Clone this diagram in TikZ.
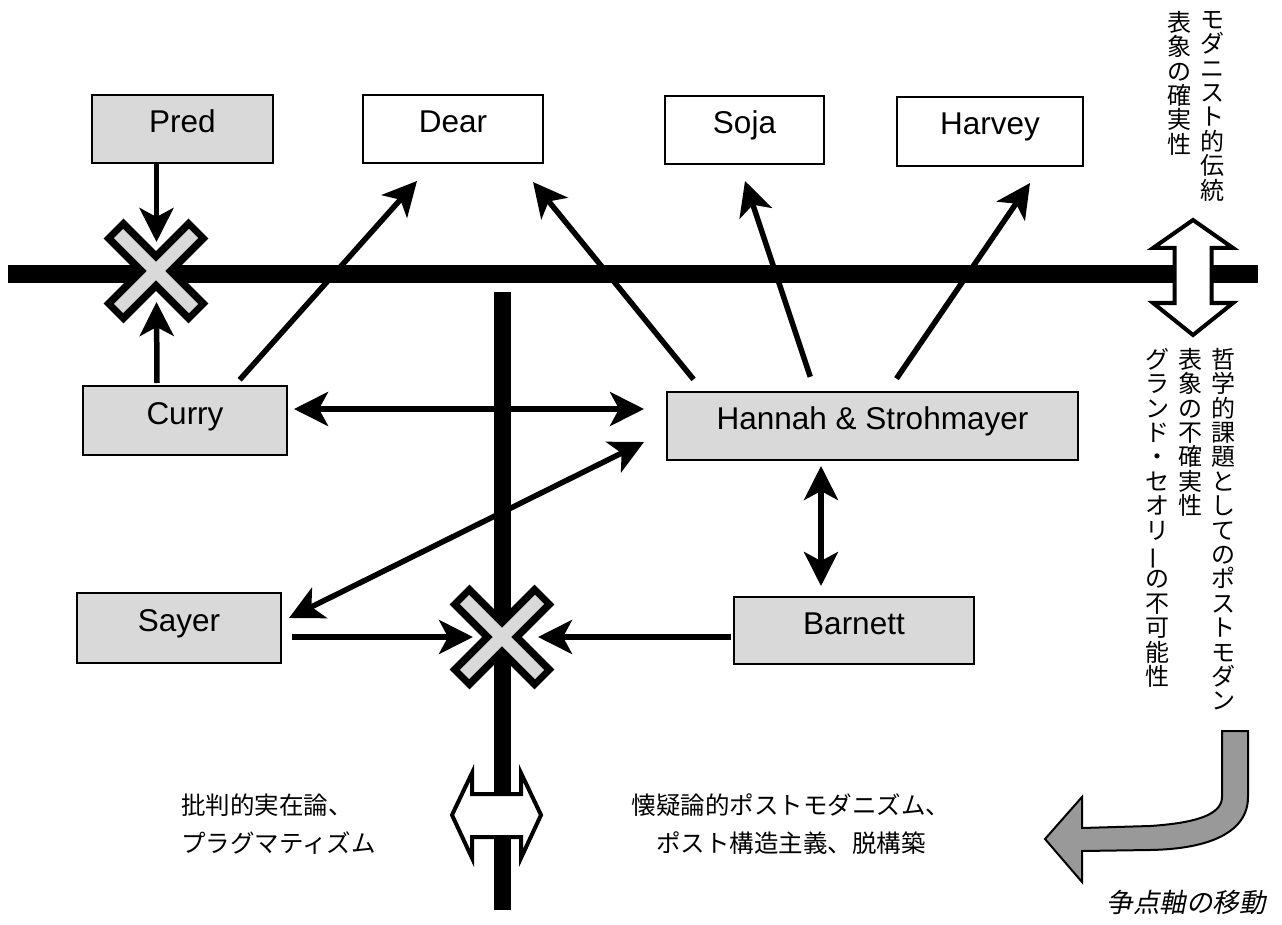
\documentclass[tikz,border=0pt]{standalone}
\usepackage{fontspec}
\setmainfont{Liberation Sans}
\newfontfamily\jp{Noto Sans CJK JP}
\newfontfamily\jpit[FakeSlant=0.2]{Noto Sans CJK JP}
\usetikzlibrary{arrows.meta,calc}
\definecolor{boxgray}{HTML}{D9D9D9}
\definecolor{arrgray}{HTML}{999999}
\newcommand{\vbar}{\rotatebox[origin=c]{90}{ー}}
\tikzset{
  box/.style={draw=black, line width=2pt, inner sep=0pt, text height=22pt, text depth=15pt,
    font=\fontsize{31.5}{36}\selectfont},
  graybox/.style={box, fill=boxgray},
  whitebox/.style={box, fill=white},
  arr/.style={line width=5.5pt, -{Stealth[length=34pt,width=34pt,inset=9pt]}},
  darr/.style={line width=5.5pt, {Stealth[length=34pt,width=34pt,inset=9pt]}-{Stealth[length=34pt,width=34pt,inset=9pt]}},
  axis/.style={line width=18pt, line cap=butt},
  vtext/.style={align=center, inner sep=0pt, anchor=north, font=\jp\fontsize{24}{24.4}\selectfont},
  jtext/.style={inner sep=0pt, font=\jp\fontsize{24.5}{38}\selectfont},
  whitearrow/.style={draw=black, fill=white, line width=4pt, line join=miter},
}
\newcommand{\xmark}[1]{%
  \draw[line width=28pt, line cap=butt] ($(#1)+(-42.4,-42.4)$) -- ($(#1)+(42.4,42.4)$);
  \draw[line width=28pt, line cap=butt] ($(#1)+(-42.4,42.4)$) -- ($(#1)+(42.4,-42.4)$);
  \draw[line width=13pt, line cap=butt, boxgray] ($(#1)+(-37.5,-37.5)$) -- ($(#1)+(37.5,37.5)$);
  \draw[line width=13pt, line cap=butt, boxgray] ($(#1)+(-37.5,37.5)$) -- ($(#1)+(37.5,-37.5)$);
}
\begin{document}
\begin{tikzpicture}[x=1pt,y=-1pt]
\useasboundingbox[fill=white] (0,0) rectangle (1282,925);

% axes
\draw[axis] (8,274) -- (1258,274);
\draw[axis, line width=17pt] (502,292) -- (502,910);

% boxes
\node[graybox, minimum width=181pt, minimum height=68pt] (pred) at (182.5,129) {Pred};
\node[whitebox, minimum width=180pt, minimum height=68pt] (dear) at (453,129) {Dear};
\node[whitebox, minimum width=159pt, minimum height=68pt] (soja) at (744.5,130) {Soja};
\node[whitebox, minimum width=186pt, minimum height=69pt] (harvey) at (990,131.5) {Harvey};
\node[graybox, minimum width=204pt, minimum height=69pt] (curry) at (185,420.5) {Curry};
\node[graybox, minimum width=411pt, minimum height=68pt] (hs) at (872.5,426) {Hannah \& Strohmayer};
\node[graybox, minimum width=204pt, minimum height=70pt] (sayer) at (179,628) {Sayer};
\node[graybox, minimum width=240pt, minimum height=67pt] (barnett) at (854,630.5) {Barnett};

% crossing points
\coordinate (x1) at (156,271);
\coordinate (x2) at (502,637);
\coordinate (x1n) at (156.5,242);
\coordinate (x1s) at (156.5,302);
\coordinate (x2w) at (473,637);
\coordinate (x2e) at (538,637);

% connectors
\draw[arr] ([xshift=-26pt]pred.south) -- (x1n);
\draw[arr] ([xshift=-28pt,yshift=2pt]curry.north) -- (x1s);
\draw[arr, shorten <=7pt] ([xshift=50pt]curry.north) -- ([xshift=-36pt,yshift=-17pt]dear.south);
\draw[darr] ([xshift=6pt,yshift=11.5pt]curry.east) -- ([xshift=-22pt,yshift=17pt]hs.west);
\draw[darr] ([xshift=7pt,yshift=10pt]sayer.east) -- ([xshift=-22pt,yshift=-16pt]hs.west);
\draw[arr, shorten <=15pt] ([xshift=-169.5pt]hs.north) -- ([xshift=80pt,yshift=-18pt]dear.south);
\draw[arr, shorten <=15pt] ([xshift=-57.5pt]hs.north) -- ([xshift=0.5pt,yshift=-16pt]soja.south);
\draw[arr, shorten <=15pt] ([xshift=15.5pt]hs.north) -- ([xshift=40pt,yshift=-16pt]harvey.south);
\draw[darr] ([xshift=-51.5pt,yshift=-5pt]hs.south) -- ([xshift=-33pt,yshift=10pt]barnett.north);
\draw[arr] ([xshift=10pt,yshift=-9pt]sayer.east) -- (x2w);
\draw[arr] ([xshift=-2pt,yshift=-6.5pt]barnett.west) -- (x2e);

% X marks
\xmark{x1}
\xmark{x2}

% white double arrows
\draw[whitearrow] (1193,220) -- (1233,248) -- (1211.5,248) -- (1211.5,303) -- (1233,303)
  -- (1193,335) -- (1153,303) -- (1174.5,303) -- (1174.5,248) -- (1153,248) -- cycle;
\draw[whitearrow] (452,815) -- (472,773) -- (472,794) -- (521,794) -- (521,773)
  -- (541,815) -- (521,858) -- (521,837) -- (472,837) -- (472,858) -- cycle;

% vertical texts
\node[vtext] (modtrad) at (1212,11) {モ\\ダ\\ニ\\ス\\ト\\的\\伝\\統};
\node[vtext] (repcert) at (1179,11) {表\\象\\の\\確\\実\\性};
\node[vtext] (postmod) at (1223,348) {哲\\学\\的\\課\\題\\と\\し\\て\\の\\ポ\\ス\\ト\\モ\\ダ\\ン};
\node[vtext] (repunc) at (1190,348) {表\\象\\の\\不\\確\\実\\性};
\node[vtext] (grand) at (1157,348) {グ\\ラ\\ン\\ド\\・\\セ\\オ\\リ\\\vbar\\の\\不\\可\\能\\性};

% bottom texts
\node[jtext, align=left, anchor=west] (critreal) at (181,824) {批判的実在論、\\プラグマティズム};
\node[jtext, align=center] (skept) at (791,824) {懐疑論的ポストモダニズム、\\ポスト構造主義、脱構築};

% gray curved arrow
\draw[fill=arrgray, line width=2pt, line join=miter] (1222,731) -- (1248,731) -- (1248,797)
  .. controls (1248,832) and (1210,849) .. (1150,850) -- (1082,851) -- (1082,882) -- (1045,839)
  -- (1082,797) -- (1082,828) -- (1150,826) .. controls (1195,823) and (1222,815) .. (1222,797) -- cycle;
\node[inner sep=0pt, font=\jpit\fontsize{26.5}{26.5}\selectfont, anchor=east] (move) at (1266,902) {争点軸の移動};
\end{tikzpicture}
\end{document}
